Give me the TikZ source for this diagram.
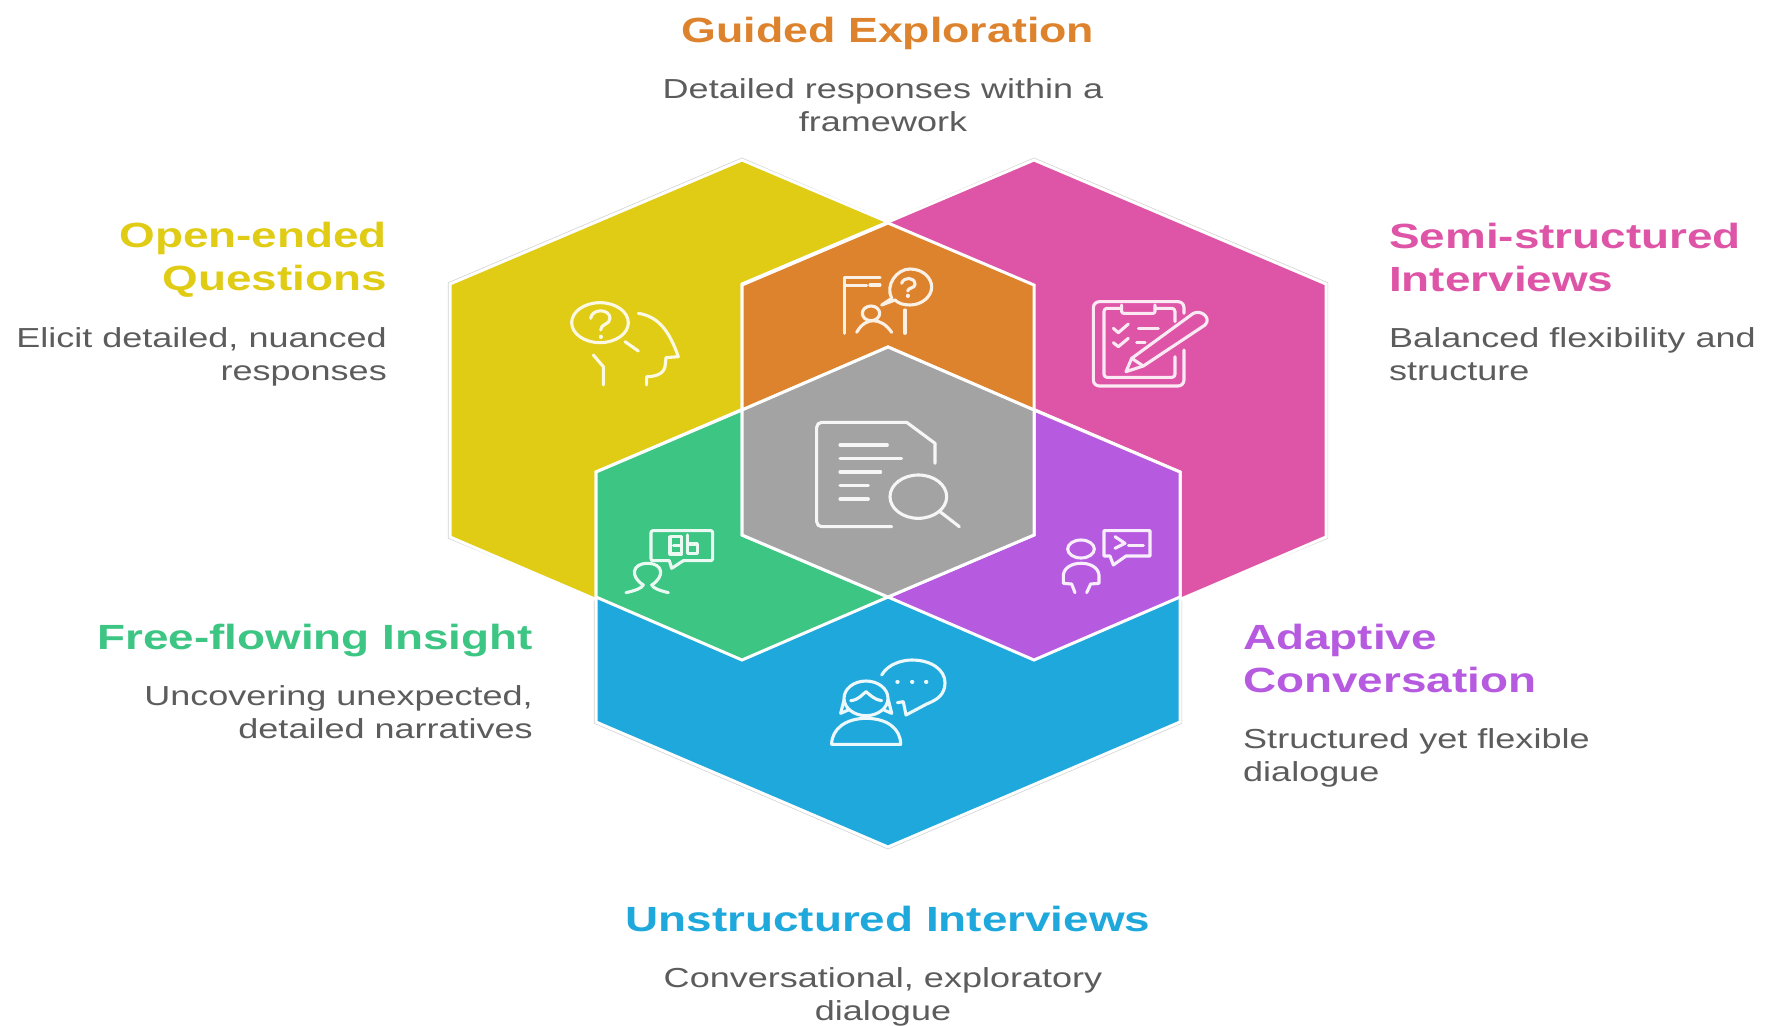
\documentclass[tikz,border=0pt]{standalone}
\usepackage{fontspec}
\setmainfont{Liberation Sans}
\newfontfamily\ttlfont[FakeStretch=1.31]{Liberation Sans}
\newfontfamily\dscfont[FakeStretch=1.31]{Liberation Sans}
\definecolor{cyellow}{HTML}{E0CB15}
\definecolor{cpink}{HTML}{DE54A6}
\definecolor{cblue}{HTML}{1EA8DB}
\definecolor{cgreen}{HTML}{3CC583}
\definecolor{cpurple}{HTML}{B65AE0}
\definecolor{corange}{HTML}{DE832D}
\definecolor{cgray}{HTML}{A3A3A3}
\definecolor{cdesc}{HTML}{5C5C5C}
\tikzset{
  hexa/.style={draw=white,line width=3pt,line join=miter},
  ttl/.style={inner sep=0pt,font=\ttlfont\bfseries\fontsize{35}{43}\selectfont},
  dsc/.style={inner sep=0pt,text=cdesc,font=\dscfont\fontsize{27.5}{32.5}\selectfont},
  ico/.style={line width=3.1pt,line cap=round,line join=round},
  icodot/.style={line width=4pt,line cap=round},
}
\begin{document}
\begin{tikzpicture}[x=1pt,y=-1pt]
\useasboundingbox (0,0) rectangle (1766,1025);
\begin{scope}[shift={(1,0)}]
% faint outer edge
\draw[line width=4.4pt,draw=black!18,line join=miter]
  (741,160) -- (887,223) -- (1033,160) -- (1325,284) -- (1325,537) -- (1179,597) -- (1179,722) -- (887,847) -- (595,722) -- (595,597) -- (449,537) -- (449,284) -- cycle;
% three large hexagons
\fill[cyellow,hexa] (741,160) -- (1033,284) -- (1033,537) -- (741,662) -- (449,537) -- (449,284) -- cycle;
\fill[cpink,hexa] (1033,160) -- (1325,284) -- (1325,537) -- (1033,662) -- (741,537) -- (741,284) -- cycle;
\fill[cblue,hexa] (887,347) -- (1179,472) -- (1179,722) -- (887,847) -- (595,722) -- (595,472) -- cycle;
% overlaps
\fill[corange,hexa] (887,223) -- (1033,285) -- (1033,410) -- (887,347) -- (741,410) -- (741,285) -- cycle;
\fill[cgreen,hexa] (741,410) -- (741,535) -- (887,597) -- (741,660) -- (595,597) -- (595,472) -- cycle;
\fill[cpurple,hexa] (1033,410) -- (1179,472) -- (1179,597) -- (1033,660) -- (887,597) -- (1033,535) -- cycle;
\fill[cgray,hexa] (887,347) -- (1033,410) -- (1033,535) -- (887,597) -- (741,535) -- (741,410) -- cycle;
\end{scope}

% yellow icon
\begin{scope}[shift={(430,150)},scale=1/3,ico,draw=cyellow!12!white]
\draw (510,518) ellipse [x radius=85,y radius=60];
\draw (482,505) .. controls (485,475) and (540,475) .. (540,505) .. controls (540,525) and (512,520) .. (512,540);
\draw[icodot] (512,560) -- (512,561);
\draw (585,575) -- (625,603);
\draw (625,490) .. controls (690,500) and (720,550) .. (745,620) -- (708,623) -- (705,650) .. controls (700,675) and (670,680) .. (650,680) -- (650,705);
\draw (490,615) -- (520,650) -- (520,705);
\end{scope}

% orange icon
\begin{scope}[shift={(825,255)},scale=1/3,ico,draw=corange!12!white]
\draw (58,235) -- (58,68) -- (165,68);
\draw (58,92) -- (125,92) (135,90) -- (165,90);
\draw (240,165) -- (240,235);
\draw (200,130) .. controls (180,90) and (215,42) .. (255,42) .. controls (295,42) and (320,70) .. (320,96) .. controls (320,125) and (290,150) .. (255,150) .. controls (235,150) and (220,145) .. (210,135) -- (170,150) -- cycle;
\draw (230,85) .. controls (235,65) and (270,65) .. (270,88) .. controls (270,100) and (248,98) .. (248,108);
\draw[icodot] (248,122) -- (248,123);
\draw (138,175) ellipse [x radius=26,y radius=22];
\draw (95,232) .. controls (110,205) and (130,197) .. (145,197) .. controls (165,197) and (185,210) .. (200,232);
\end{scope}

% pink icon
\begin{scope}[shift={(880,150)},scale=1/3,ico,draw=cpink!12!white]
\draw[rounded corners=6pt] (912,490) -- (912,455) -- (640,455) -- (640,708) -- (912,708) -- (912,600);
\draw[rounded corners=3pt] (885,515) -- (885,475) -- (825,475) (725,475) -- (672,475) -- (672,682) -- (885,682) -- (885,620);
\draw[rounded corners=2pt] (725,465) -- (725,490) -- (825,490) -- (825,465);
\draw (700,535) -- (715,548) -- (745,522);
\draw (700,578) -- (715,590) -- (745,565);
\draw (775,535) -- (835,535);
\draw (770,577) -- (795,577);
\draw (738,665) -- (755,625) -- (940,490) .. controls (965,478) and (995,505) .. (975,525) -- (790,648) -- cycle;
\draw (755,625) -- (790,648);
\end{scope}

% document icon
\begin{scope}[shift={(800,410)},scale=1/3,ico,draw=cgray!10!white]
\draw[rounded corners=5pt] (275,350) -- (50,350) -- (50,37) -- (320,37);
\draw (320,37) -- (405,100) -- (405,160);
\draw (120,105) -- (262,105);
\draw (120,145) -- (305,145);
\draw (120,186) -- (242,186);
\draw (120,226) -- (205,226);
\draw (120,267) -- (205,267);
\draw (355,260) ellipse [x radius=85,y radius=65];
\draw (420,305) -- (478,350);
\end{scope}

% green icon
\begin{scope}[shift={(580,400)},scale=1/3,ico,draw=cgreen!10!white]
\draw[rounded corners=2pt] (225,482) -- (213,482) -- (213,392) -- (398,392) -- (398,482) -- (310,482);
\draw (225,482) -- (268,482) -- (275,505) -- (310,482);
\draw (138,578) .. controls (165,572) and (185,565) .. (190,555) .. controls (150,530) and (155,490) .. (203,490) .. controls (250,490) and (255,530) .. (215,555) .. controls (220,565) and (240,572) .. (265,578);
\draw (305,410) -- (270,410) -- (270,462) -- (305,462) -- (305,410) (280,436) -- (305,436);
\draw (322,405) -- (322,460) -- (352,460) -- (352,432) -- (322,432);
\end{scope}

% purple icon
\begin{scope}[shift={(880,400)},scale=1/3,ico,draw=cpurple!10!white]
\draw (603,447) ellipse [x radius=40,y radius=27];
\draw (585,578) -- (575,552) -- (550,550) -- (550,525) .. controls (555,478) and (652,478) .. (657,525) -- (657,550) -- (632,552) -- (620,578);
\draw (672,392) -- (810,392) -- (810,468) -- (738,468) -- (700,495) -- (690,468) -- (672,468) -- cycle;
\draw (705,410) -- (735,430) -- (705,445);
\draw (745,437) -- (790,437);
\end{scope}

% blue icon
\begin{scope}[shift={(780,630)},scale=1/3,ico,draw=cblue!8!white]
\draw (258,205) ellipse [x radius=66,y radius=52];
\draw (212,212) .. controls (235,210) and (245,195) .. (258,185) .. controls (270,195) and (285,210) .. (305,212);
\draw (192,210) -- (182,250) -- (205,240);
\draw (325,210) -- (335,250) -- (312,240);
\draw (155,343) .. controls (155,295) and (200,265) .. (258,265) .. controls (320,265) and (362,295) .. (362,343) -- cycle;
\draw (305,135) .. controls (325,100) and (370,90) .. (395,90) .. controls (455,90) and (495,120) .. (495,158) .. controls (495,195) and (470,210) .. (440,222) -- (378,255) -- (370,215) -- (352,218);
\draw[icodot] (352,155) -- (353,155);
\draw[icodot] (396,155) -- (397,155);
\draw[icodot] (438,155) -- (439,155);
\end{scope}

% texts
\node[ttl,text=corange,align=center] (t1) at (888,33) {\scalebox{0.975}[1]{Guided Exploration}};
\node[dsc,align=center] (d1) at (883,105) {Detailed responses within a\\framework};
\node[ttl,text=cyellow,align=right,anchor=east] (t2) at (387,260) {Open-ended\\Questions};
\node[dsc,align=right,anchor=east] (d2) at (387,357) {Elicit detailed, nuanced\\responses};
\node[ttl,text=cpink,align=left,anchor=west] (t3) at (1389,257) {Semi-structured\\Interviews};
\node[dsc,align=left,anchor=west] (d3) at (1389,354) {Balanced flexibility and\\structure};
\node[ttl,text=cgreen,align=right,anchor=east] (t4) at (533,640.5) {Free-flowing Insight};
\node[dsc,align=right,anchor=east] (d4) at (533,712) {Uncovering unexpected,\\detailed narratives};
\node[ttl,text=cpurple,align=left,anchor=west] (t5) at (1243,658) {Adaptive\\Conversation};
\node[dsc,align=left,anchor=west] (d5) at (1243,758) {Structured yet flexible\\dialogue};
\node[ttl,text=cblue,align=center] (t6) at (888,919) {Unstructured Interviews};
\node[dsc,align=center] (d6) at (883,997) {Conversational, exploratory\\dialogue};
\end{tikzpicture}
\end{document}
